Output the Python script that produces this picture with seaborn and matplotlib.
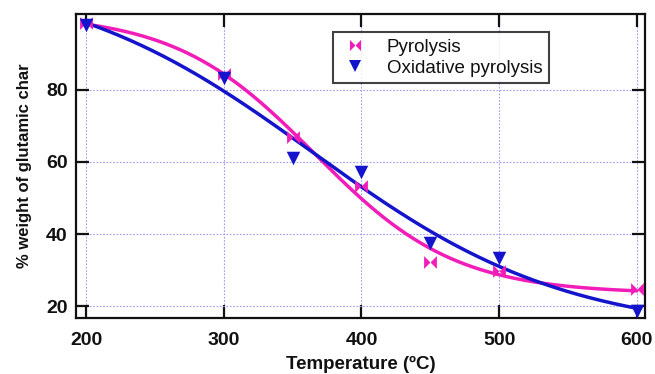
import numpy as np
import pandas as pd
import matplotlib
matplotlib.use("Agg")
import matplotlib.pyplot as plt
import seaborn as sns
from matplotlib.lines import Line2D

# ---- data ----
temperature = [200, 300, 350, 400, 450, 500, 600]
pyrolysis = [98.5, 84.3, 67.0, 53.3, 32.2, 29.8, 24.6]
oxidative = [98.0, 83.3, 61.1, 57.2, 37.5, 33.4, 18.7]
series_names = ["Pyrolysis", "Oxidative pyrolysis"]
x_ticks = [200, 300, 400, 500, 600]
y_ticks = [20, 40, 60, 80]

PINK = "#F21CB8"
BLUE = "#1414CC"
INK = "#111111"

sns.set_theme(style="white")
plt.rcParams["font.family"] = ["Liberation Sans", "DejaVu Sans"]


def boltzmann_fit(x, y):
    x = np.asarray(x, float)
    y = np.asarray(y, float)
    best = None
    for x0 in np.linspace(250, 550, 301):
        for dx in np.linspace(10, 200, 191):
            s = 1.0 / (1.0 + np.exp((x - x0) / dx))
            M = np.column_stack([s, 1 - s])
            coef, *_ = np.linalg.lstsq(M, y, rcond=None)
            r = np.sum((M @ coef - y) ** 2)
            if best is None or r < best[0]:
                best = (r, x0, dx, coef)
    _, x0, dx, coef = best

    def f(t):
        s = 1.0 / (1.0 + np.exp((t - x0) / dx))
        return coef[0] * s + coef[1] * (1 - s)
    return f


xs = np.linspace(min(temperature), max(temperature), 300)
fit_p = boltzmann_fit(temperature, pyrolysis)
fit_o = boltzmann_fit(temperature, oxidative)

pts = pd.DataFrame({
    "T": temperature * 2,
    "w": pyrolysis + oxidative,
    "s": [series_names[0]] * len(temperature) + [series_names[1]] * len(temperature),
})
curves = pd.DataFrame({
    "T": np.concatenate([xs, xs]),
    "w": np.concatenate([fit_p(xs), fit_o(xs)]),
    "s": [series_names[0]] * len(xs) + [series_names[1]] * len(xs),
})

bowtie = [(-1, 1), (1, -1), (1, 1), (-1, -1), (-1, 1)]

fig = plt.figure(figsize=(6.55, 3.74), dpi=100)
ax = fig.add_axes([0.116, 0.150, 0.869, 0.8126])

sns.lineplot(data=curves, x="T", y="w", hue="s", palette=[PINK, BLUE],
             linewidth=2.5, legend=False, ax=ax, zorder=3)
sns.scatterplot(data=pts[pts.s == series_names[0]], x="T", y="w", color=PINK,
                marker=bowtie, s=85, linewidth=0, legend=False, ax=ax, zorder=4)
sns.scatterplot(data=pts[pts.s == series_names[1]], x="T", y="w", color=BLUE,
                marker="v", s=95, linewidth=0, legend=False, ax=ax, zorder=4)

ax.set_xlim(192.7, 606)
ax.set_ylim(16.7, 101.1)
ax.set_xticks(x_ticks)
ax.set_yticks(y_ticks)
ax.grid(True, color="#9c9cf0", linestyle=(0, (1.5, 1.5)), linewidth=0.8)
ax.set_axisbelow(True)
for sp in ax.spines.values():
    sp.set_color(INK)
    sp.set_linewidth(1.6)
    sp.set_visible(True)
ax.tick_params(direction="in", length=9.5, width=1.6, color=INK, labelcolor=INK,
               top=True, right=True, bottom=True, left=True, labelsize=14)
ax.tick_params(axis="x", pad=10)
ax.tick_params(axis="y", pad=6)
for lab in ax.get_xticklabels() + ax.get_yticklabels():
    lab.set_fontweight("bold")
ax.set_xlabel("Temperature (ºC)", fontsize=13.5, fontweight="bold", labelpad=5, color=INK)
ax.set_ylabel("% weight of glutamic char", fontsize=12, fontweight="bold", labelpad=10, color=INK)

handles = [
    Line2D([], [], linestyle="none", marker=bowtie, color=PINK, markersize=8, markeredgewidth=0),
    Line2D([], [], linestyle="none", marker="v", color=BLUE, markersize=8, markeredgewidth=0),
]
leg = ax.legend(handles, series_names, loc="upper left", bbox_to_anchor=(0.452, 0.94),
                fontsize=13.5, frameon=True, fancybox=False, borderpad=0.35,
                handletextpad=0.9, labelspacing=0.2, handlelength=1.6, borderaxespad=0,
                labelcolor=INK)
leg.get_frame().set_edgecolor(INK)
leg.get_frame().set_linewidth(1.5)

fig.savefig("out.png", dpi=100)
